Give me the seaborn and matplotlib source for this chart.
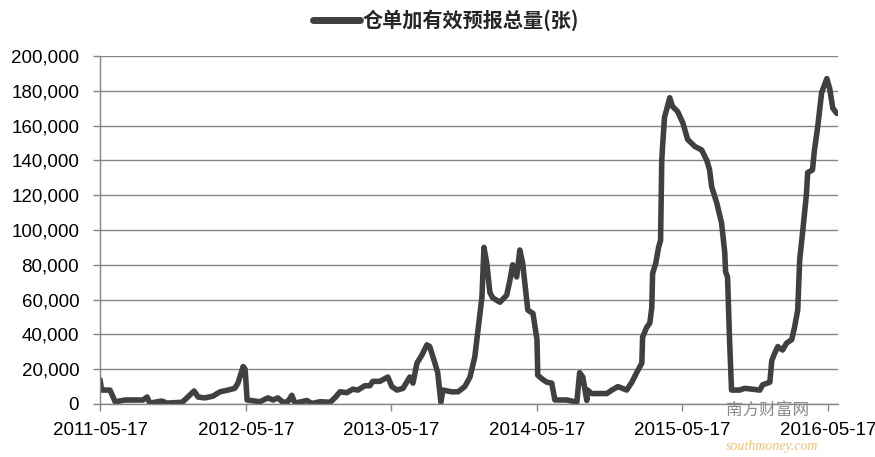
import warnings
warnings.filterwarnings("ignore")

import numpy as np
import pandas as pd
import matplotlib
matplotlib.use("Agg")
import matplotlib.pyplot as plt
import matplotlib.dates as mdates
import seaborn as sns

START_DATE = "2011-05-17"
SERIES_NAME = "仓单加有效预报总量(张)"

# days after START_DATE
day_offsets = [
    0, 4, 25, 38, 63, 108, 118, 125, 155, 168, 206, 218, 236, 246, 263, 283,
    301, 321, 338, 346, 359, 364, 369, 401, 421, 434, 446, 459, 471, 481, 489,
    519, 531, 552, 577, 589, 602, 619, 634, 647, 664, 677, 684, 702, 722, 732,
    745, 760, 777, 785, 795, 807, 820, 827, 840, 847, 855, 860, 882, 898, 915,
    928, 940, 948, 958, 963, 970, 978, 985, 1003, 1020, 1028, 1035, 1045, 1053,
    1060, 1073, 1086, 1096, 1098, 1111, 1121, 1133, 1141, 1171, 1196, 1203,
    1211, 1221, 1223, 1233, 1271, 1284, 1299, 1321, 1334, 1346, 1359, 1361,
    1371, 1379, 1384, 1386, 1394, 1401, 1406, 1409, 1411, 1416, 1421, 1429,
    1436, 1449, 1462, 1474, 1492, 1509, 1522, 1529, 1534, 1547, 1559, 1567,
    1569, 1574, 1579, 1584, 1604, 1617, 1655, 1662, 1680, 1685, 1692, 1700,
    1712, 1722, 1735, 1742, 1750, 1755, 1762, 1772, 1775, 1787, 1792, 1800,
    1805, 1810, 1823, 1830, 1838, 1848,
]

# total in thousands of 张
totals_k = [
    14, 8, 8, 1.3, 2.3, 2.3, 4, 0.5, 1.7, 0.5, 1, 3.5, 7.5, 4, 3.5, 4.5,
    7, 8, 9, 12, 21.5, 20, 2.3, 1.3, 3.5, 2.3, 3.5, 1, 1.3, 5, 0.5,
    2, 0.3, 1.3, 1, 3.5, 7, 6.5, 8.5, 8, 10.5, 10.5, 13, 13, 15.5, 10,
    8, 9, 15.5, 12, 23.5, 28, 34, 33, 23.5, 18, 1, 8, 7, 7, 10,
    15.5, 27, 42.5, 61.5, 90, 81, 64, 61, 58.5, 62.5, 71, 80, 73, 88.5,
    81, 54, 52, 37, 16.5, 14, 12.5, 12, 2.3, 2.3, 1, 18,
    15.5, 2, 8, 6, 6, 8, 10, 8, 12.5, 18, 23.5, 38.5,
    44, 46.5, 55.5, 75, 81, 90, 94, 140, 148, 165, 169, 176,
    171, 168, 161.5, 152, 148, 146, 140, 134.5, 125, 115.5, 104, 87,
    76, 73, 37, 8, 8, 9, 8, 11, 12.5, 25, 29, 33,
    31, 35, 37, 44, 54, 83, 98, 121, 133, 134.5, 146, 159,
    169, 179, 187, 181.5, 170, 167,
]

tick_dates = ["2011-05-17", "2012-05-17", "2013-05-17", "2014-05-17",
              "2015-05-17", "2016-05-17"]
y_ticks = list(range(0, 200001, 20000))

start = pd.Timestamp(START_DATE)
df = pd.DataFrame({
    "date": start + pd.to_timedelta(day_offsets, unit="D"),
    "total": np.array(totals_k) * 1000,
})

sns.set_style("white")
plt.rcParams["font.family"] = ["Liberation Sans", "Noto Sans CJK SC", "DejaVu Sans"]

fig = plt.figure(figsize=(8.75, 4.57), dpi=100)
ax = fig.add_axes([0.1143, 0.116, 0.8434, 0.7615])

sns.lineplot(data=df, x="date", y="total", ax=ax, color="#404040",
             linewidth=4.0, label=SERIES_NAME, solid_joinstyle="round",
             solid_capstyle="round")

ax.set_xlim(start, start + pd.Timedelta(days=1851))
ax.set_ylim(0, 200000)
ax.set_yticks(y_ticks)
ax.set_yticklabels([f"{v:,}" for v in y_ticks])
ax.set_xticks(pd.to_datetime(tick_dates))
ax.xaxis.set_major_formatter(mdates.DateFormatter("%Y-%m-%d"))
ax.set_xlabel("")
ax.set_ylabel("")

ax.grid(axis="y", color="#868686", linewidth=1.0)
ax.set_axisbelow(True)
for side in ["top", "right"]:
    ax.spines[side].set_visible(False)
for side in ["left", "bottom"]:
    ax.spines[side].set_color("#868686")
    ax.spines[side].set_linewidth(1.0)

ax.tick_params(axis="both", which="major", labelsize=13.5, colors="#868686",
               labelcolor="black", length=5, width=1, direction="out")
ax.tick_params(axis="y", pad=10)
ax.tick_params(axis="x", pad=8)
ax.tick_params(bottom=True, left=True)

leg = ax.legend(loc="center", bbox_to_anchor=(0.51, 0.956),
                bbox_transform=fig.transFigure, frameon=False,
                handlelength=2.3, handletextpad=0.15,
                prop={"family": ["Noto Sans CJK SC"], "size": 14.5,
                      "weight": "bold"})
for line in leg.get_lines():
    line.set_linewidth(5)

# watermark in the bottom right corner
fig.text(0.83, 0.102, "南方财富网", color="#8a8a8a", fontsize=12,
         family=["Noto Sans CJK SC"], ha="left", va="center")
fig.text(0.83, 0.022, "southmoney.com", color="#f0b050", fontsize=10,
         style="italic", family=["Liberation Serif"], ha="left", va="center",
         alpha=0.8)

fig.savefig("out.png", dpi=100)
